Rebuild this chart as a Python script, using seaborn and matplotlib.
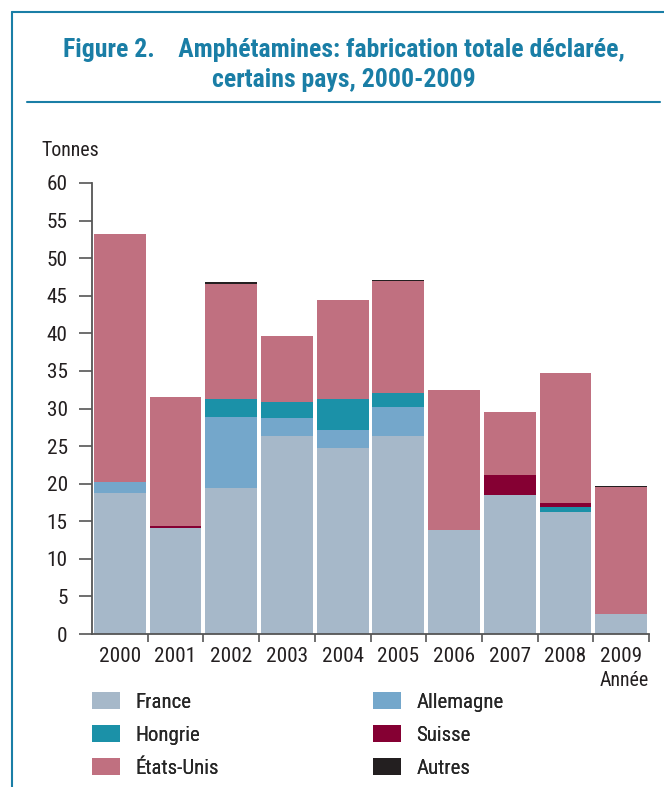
import numpy as np
import pandas as pd
import matplotlib
matplotlib.use('Agg')
import matplotlib.pyplot as plt
import seaborn as sns
from matplotlib import font_manager
from matplotlib.patches import Patch
from matplotlib.lines import Line2D

#data (tonnes)
years = ['2000', '2001', '2002', '2003', '2004', '2005', '2006', '2007', '2008', '2009']
france = [18.7, 14.1, 19.4, 26.4, 24.7, 26.3, 13.8, 18.5, 16.2, 2.6]
allemagne = [1.5, 0.0, 9.5, 2.4, 2.5, 3.9, 0.1, 0.0, 0.0, 0.0]
hongrie = [0.0, 0.0, 2.3, 2.0, 4.0, 1.9, 0.0, 0.0, 0.7, 0.0]
suisse = [0.0, 0.3, 0.0, 0.0, 0.0, 0.0, 0.0, 2.7, 0.5, 0.0]
etats_unis = [33.0, 17.1, 15.3, 8.8, 13.3, 14.9, 18.6, 8.3, 17.3, 17.0]
autres = [0.0, 0.0, 0.3, 0.0, 0.0, 0.1, 0.0, 0.0, 0.0, 0.1]

series_names = ['France', 'Allemagne', 'Hongrie', 'Suisse', 'États-Unis', 'Autres']
series_colors = ['#a6b8c9', '#74a7cb', '#1b91a8', '#850033', '#c07080', '#231f20']

#pick a narrow font if one is installed
names = set(f.name for f in font_manager.fontManager.ttflist)
narrow = [n for n in ['Liberation Sans Narrow', 'Roboto Condensed', 'Open Sans Condensed',
                      'Noto Sans Condensed', 'Liberation Sans'] if n in names]
fam = [narrow[0], 'DejaVu Sans'] if narrow else ['DejaVu Sans']

sns.set_style('white')
plt.rcParams['font.family'] = fam

df = pd.DataFrame({'Année': years, 'France': france, 'Allemagne': allemagne, 'Hongrie': hongrie,
                   'Suisse': suisse, 'États-Unis': etats_unis, 'Autres': autres})
cum = df[series_names].cumsum(axis=1)

fig = plt.figure(figsize=(6.64, 7.87), dpi=100)
ax = fig.add_axes([92/664, 153/787, 557/664, 451/787])

#draw cumulative bars from top layer down so the stack shows
for name, color in reversed(list(zip(series_names, series_colors))):
    sns.barplot(x=df['Année'], y=cum[name], color=color, width=0.93, ax=ax,
                saturation=1, edgecolor='none', linewidth=0)

ax.set_xlim(-0.5, 9.5)
ax.set_ylim(0, 60)
ax.set_yticks(range(0, 61, 5))
ax.set_xlabel('')
ax.set_ylabel('')
for s in ['top', 'right']:
    ax.spines[s].set_visible(False)
for s in ['left', 'bottom']:
    ax.spines[s].set_color('#555555')
    ax.spines[s].set_linewidth(1.3)
ax.tick_params(axis='y', direction='out', length=9.5, width=1.2, color='#555555',
               labelsize=15.3, labelcolor='#231f20', pad=8, left=True)
ax.tick_params(axis='x', which='major', length=0, labelsize=15.3, labelcolor='#231f20', pad=9)
ax.set_xticks(np.arange(0.5, 9.6, 1), minor=True)
ax.tick_params(axis='x', which='minor', direction='out', length=6, width=1.2, color='#555555', bottom=True)

fig.text(41/664, 1 - 150/787, 'Tonnes', fontsize=14.3, color='#231f20', va='center', ha='left')
fig.text(649/664, 1 - 681/787, 'Année', fontsize=14.3, color='#231f20', va='center', ha='right')

#title and frame
blue = '#1a7ea6'
fig.text(344/664, 1 - 65/787, 'Figure 2.    Amphétamines: fabrication totale déclarée,\ncertains pays, 2000-2009',
         fontsize=18.5, fontweight='bold', color=blue, ha='center', va='center', linespacing=1.3)
fig.add_artist(Line2D([12/664, 12/664], [0, 1 - 12/787], color=blue, lw=1.5, transform=fig.transFigure))
fig.add_artist(Line2D([12/664, 1], [1 - 12/787, 1 - 12/787], color=blue, lw=1.5, transform=fig.transFigure))
fig.add_artist(Line2D([27/664, 660/664], [1 - 102/787, 1 - 102/787], color=blue, lw=1.5, transform=fig.transFigure))

#legend: two columns placed separately
handles = [Patch(facecolor=c, edgecolor='none') for c in series_colors]
leg_kw = dict(loc='upper left', frameon=False, fontsize=15, handlelength=1.35, handleheight=0.91,
              handletextpad=0.72, labelspacing=0.62, borderaxespad=0, borderpad=0)
for col, x0 in [([0, 2, 4], 92), ([1, 3, 5], 373)]:
    leg = fig.legend([handles[i] for i in col], [series_names[i] for i in col],
                     bbox_to_anchor=(x0/664, 1 - 692/787), **leg_kw)
    fig.add_artist(leg)

plt.savefig('out.png', dpi=100)
